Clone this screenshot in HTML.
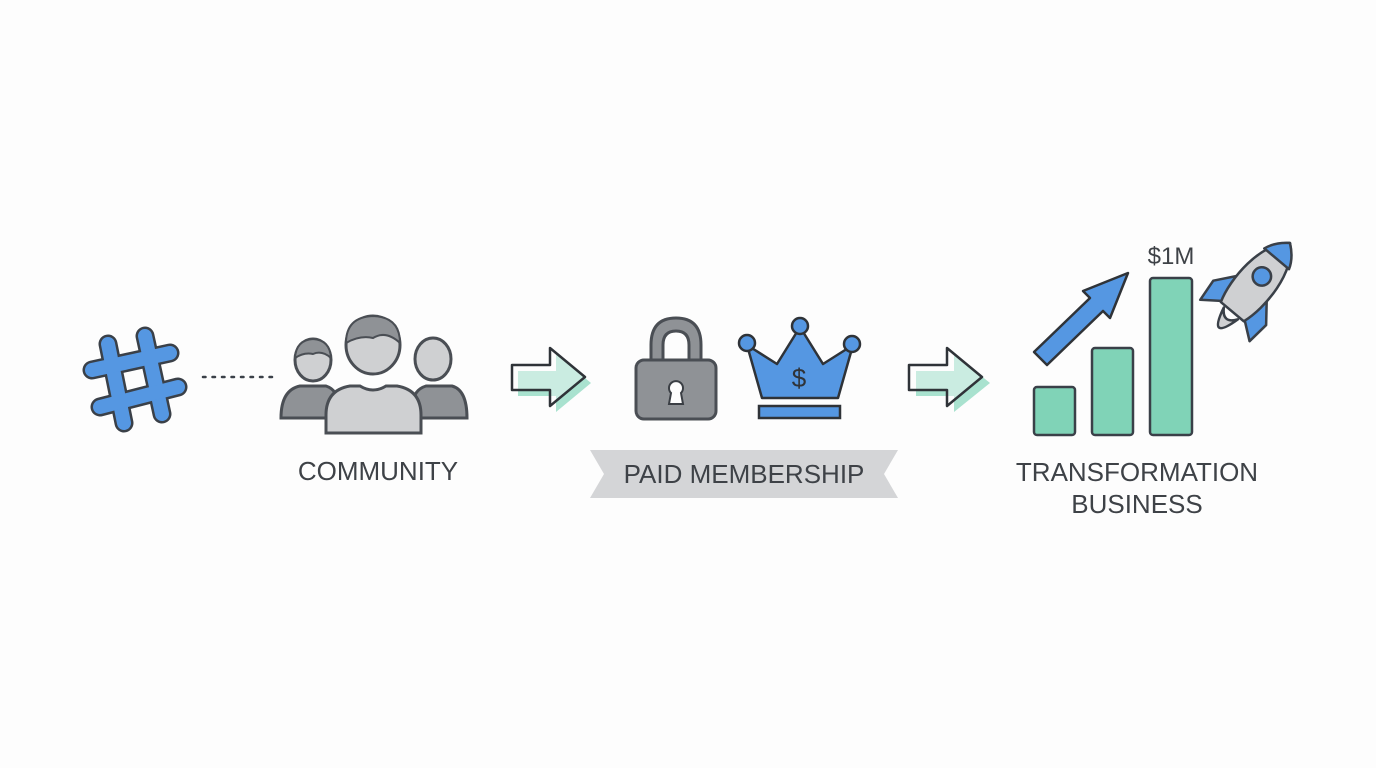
<!DOCTYPE html>
<html><head><meta charset="utf-8"><style>
html,body{margin:0;padding:0;background:#fdfdfd;}
svg{display:block}
text{font-family:"Liberation Sans",sans-serif;fill:#3e4247}
</style></head><body>
<svg width="1376" height="768" viewBox="0 0 1376 768" xmlns="http://www.w3.org/2000/svg">
<rect width="1376" height="768" fill="#fdfdfd"/>
<!-- hashtag -->
<g stroke-linecap="round">
<g stroke="#3a4048" stroke-width="19">
<line x1="108" y1="344" x2="124" y2="423"/><line x1="145" y1="336" x2="162" y2="414"/>
<line x1="92" y1="370" x2="170" y2="353"/><line x1="100" y1="407" x2="178" y2="387"/>
</g>
<g stroke="#5597e2" stroke-width="14">
<line x1="108" y1="344" x2="124" y2="423"/><line x1="145" y1="336" x2="162" y2="414"/>
<line x1="92" y1="370" x2="170" y2="353"/><line x1="100" y1="407" x2="178" y2="387"/>
</g>
</g>
<line x1="203" y1="377" x2="276" y2="377" stroke="#3a4048" stroke-width="2.5" stroke-dasharray="2.5 7" stroke-linecap="round"/>
<!-- people -->
<g stroke="#4a4e54" stroke-width="3">
<path d="M281 418 Q281 390 300 386 L326 386 Q338 390 338 405 L338 418 Z" fill="#8f9296"/>
<path d="M413 418 L413 405 Q413 390 426 386 L452 386 Q467 390 467 418 Z" fill="#8f9296"/>
<ellipse cx="313" cy="360" rx="18" ry="21" fill="#cfd0d2"/>
<path d="M295 358 Q296 340 313 339 Q330 340 331 358 Q322 350 313 354 Q304 352 295 358Z" fill="#8f9296" stroke-width="2"/>
<ellipse cx="433" cy="359" rx="18" ry="21" fill="#cfd0d2"/>
<path d="M326 433 L326 415 Q326 390 350 386 L360 386 Q373 394 386 386 L397 386 Q421 390 421 415 L421 433 Z" fill="#cfd0d2"/>
<ellipse cx="373" cy="345" rx="27" ry="29" fill="#cfd0d2"/>
<path d="M346 343 Q346 317 373 316 Q400 317 400 343 Q386 330 373 338 Q360 335 346 343Z" fill="#8f9296" stroke-width="2"/>
</g>
<text x="378" y="480" font-size="26" text-anchor="middle">COMMUNITY</text>
<!-- arrow 1 -->
<path d="M518 371 L556 371 L556 354 L591 383 L556 412 L556 396 L518 396Z" fill="#a9e2cf"/>
<path d="M512 365 L550 365 L550 348 L585 377 L550 406 L550 390 L512 390Z" fill="#fdfdfd" fill-opacity="0.4" stroke="#2f3338" stroke-width="2.5" stroke-linejoin="round"/>
<!-- lock -->
<path d="M651 362 L651 345 Q651 318 676 318 Q701 318 701 345 L701 362 L689 362 L689 345 Q689 331 676 331 Q663 331 663 345 L663 362Z" fill="#8f9296" stroke="#4a4e54" stroke-width="3"/>
<rect x="636" y="360" width="80" height="59" rx="8" fill="#8f9296" stroke="#4a4e54" stroke-width="3"/>
<path d="M671 393 A7 7 0 1 1 681 393 L683 404 L669 404Z" fill="#fdfdfd" stroke="#3a3e44" stroke-width="2"/>
<!-- crown -->
<g stroke="#2f3338" stroke-width="2.5" fill="#5597e2">
<path d="M747 345 L762 398 L838 398 L853 345 L823 364 L800 327 L777 364Z" stroke-linejoin="round"/>
<rect x="759" y="406" width="81" height="12"/>
<circle cx="747" cy="343" r="8"/><circle cx="800" cy="326" r="8"/><circle cx="852" cy="344" r="8"/>
</g>
<text x="799" y="387" font-size="26" text-anchor="middle" style="fill:#2f3338">$</text>
<!-- banner -->
<path d="M590 450 L898 450 L884 474 L898 498 L590 498 L604 474Z" fill="#d4d5d7"/>
<text x="744" y="483" font-size="26" text-anchor="middle">PAID MEMBERSHIP</text>
<!-- arrow 2 -->
<path d="M916 371 L954 371 L954 354 L990 383 L954 412 L954 396 L916 396Z" fill="#a9e2cf"/>
<path d="M909 365 L947 365 L947 348 L982 377 L947 406 L947 390 L909 390Z" fill="#fdfdfd" fill-opacity="0.4" stroke="#2f3338" stroke-width="2.5" stroke-linejoin="round"/>
<!-- bars -->
<g fill="#80d3b7" stroke="#3a4048" stroke-width="2.5">
<rect x="1034" y="387" width="41" height="48" rx="3"/>
<rect x="1092" y="348" width="41" height="87" rx="3"/>
<rect x="1150" y="278" width="42" height="157" rx="3"/>
</g>
<path d="M1034 352 L1090 298 L1083 291 L1128 273 L1110 318 L1103 311 L1047 365Z" fill="#5597e2" stroke="#2f3338" stroke-width="2.5" stroke-linejoin="round"/>
<text x="1171" y="264" font-size="24" text-anchor="middle">$1M</text>
<!-- rocket -->
<g transform="translate(1253,287) rotate(40) scale(1.15)" stroke="#3a4048" stroke-width="2.2" stroke-linejoin="round">
<path d="M-8 30 Q0 62 8 30 Q0 42 -8 30Z" fill="#cfd0d2"/>
<path d="M-14 -2 L-30 18 L-28 38 L-12 26Z" fill="#5597e2"/>
<path d="M14 -2 L30 18 L28 38 L12 26Z" fill="#5597e2"/>
<path d="M0 -50 C20 -34 20 8 13 28 L-13 28 C-20 8 -20 -34 0 -50Z" fill="#cfd0d2"/>
<path d="M0 -50 C8 -44 12 -38 14 -32 L-14 -32 C-12 -38 -8 -44 0 -50Z" fill="#5597e2"/>
<circle cx="0" cy="-12" r="8" fill="#5597e2"/>
</g>
<text x="1137" y="481" font-size="26" text-anchor="middle">TRANSFORMATION</text>
<text x="1137" y="513" font-size="26" text-anchor="middle">BUSINESS</text>
</svg>
</body></html>
